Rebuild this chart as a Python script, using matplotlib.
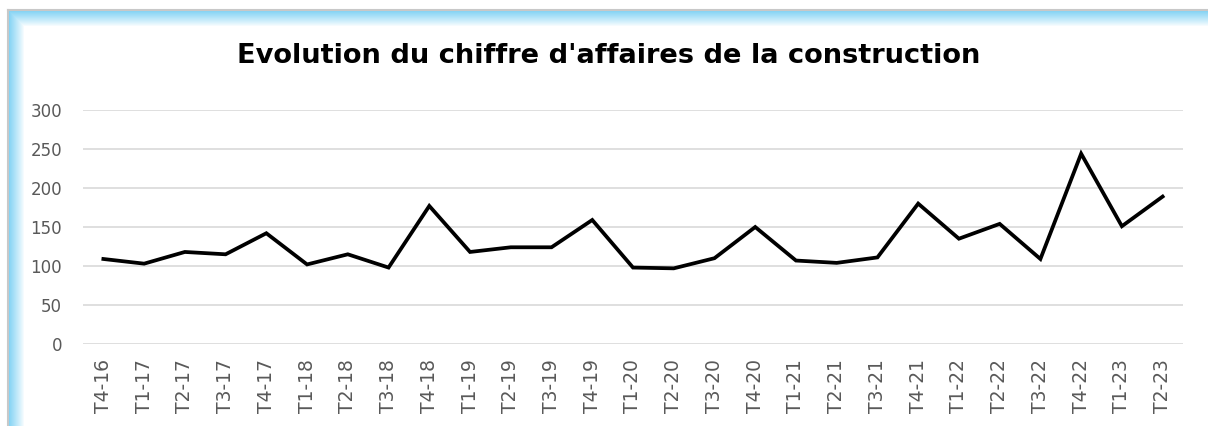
import numpy as np
import matplotlib.pyplot as plt
from matplotlib.patches import Rectangle

# donnees
trimestres = ['T4-16', 'T1-17', 'T2-17', 'T3-17', 'T4-17', 'T1-18', 'T2-18',
              'T3-18', 'T4-18', 'T1-19', 'T2-19', 'T3-19', 'T4-19', 'T1-20',
              'T2-20', 'T3-20', 'T4-20', 'T1-21', 'T2-21', 'T3-21', 'T4-21',
              'T1-22', 'T2-22', 'T3-22', 'T4-22', 'T1-23', 'T2-23']
chiffre_affaires = [109, 103, 118, 115, 142, 102, 115,
                    98, 177, 118, 124, 124, 159, 98,
                    97, 110, 150, 107, 104, 111, 180,
                    135, 154, 109, 244, 151, 189]
y_ticks = [0, 50, 100, 150, 200, 250, 300]

W, H = 1208, 426
fig = plt.figure(figsize=(W / 100, H / 100), dpi=100)

# cadre avec lueur bleue (gauche et haut)
bg = fig.add_axes([0, 0, 1, 1])
bg.set_xlim(0, W)
bg.set_ylim(H, 0)
bg.axis('off')
glow = np.array([135, 212, 244]) / 255
n = 15
for i in range(n):
    a = (1 - i / n) ** 0.9
    c = glow * a + (1 - a)
    bg.add_patch(Rectangle((9 + i, 11 + i), 1, H, color=c, lw=0))
    bg.add_patch(Rectangle((9 + i, 11 + i), W, 1, color=c, lw=0))
bg.plot([8, 8], [10, H], color='#c8c8c8', lw=1.5)
bg.plot([8, W], [10, 10], color='#c8c8c8', lw=1.5)

# graphique
ax = fig.add_axes([83 / W, 1 - 344 / H, 1100 / W, 234 / H])
x = np.arange(len(trimestres))
ax.plot(x, chiffre_affaires, color='black', lw=2.7, solid_joinstyle='miter')
ax.set_xlim(-0.5, len(trimestres) - 0.5)
ax.set_ylim(0, 300)
ax.set_yticks(y_ticks)
ax.set_xticks(x)
ax.set_xticklabels(trimestres, rotation=90)
ax.grid(axis='y', color='#d9d9d9', lw=1.2)
ax.set_axisbelow(True)
for s in ax.spines.values():
    s.set_visible(False)
ax.tick_params(axis='both', length=0, labelcolor='#595959')
ax.tick_params(axis='y', pad=15, labelsize=12)
ax.tick_params(axis='x', pad=11, labelsize=13.5)

fig.text(609 / W, 1 - 56 / H, "Evolution du chiffre d'affaires de la construction",
         ha='center', va='center', fontsize=19.6, fontweight='bold')

fig.savefig('out.png', dpi=100)
